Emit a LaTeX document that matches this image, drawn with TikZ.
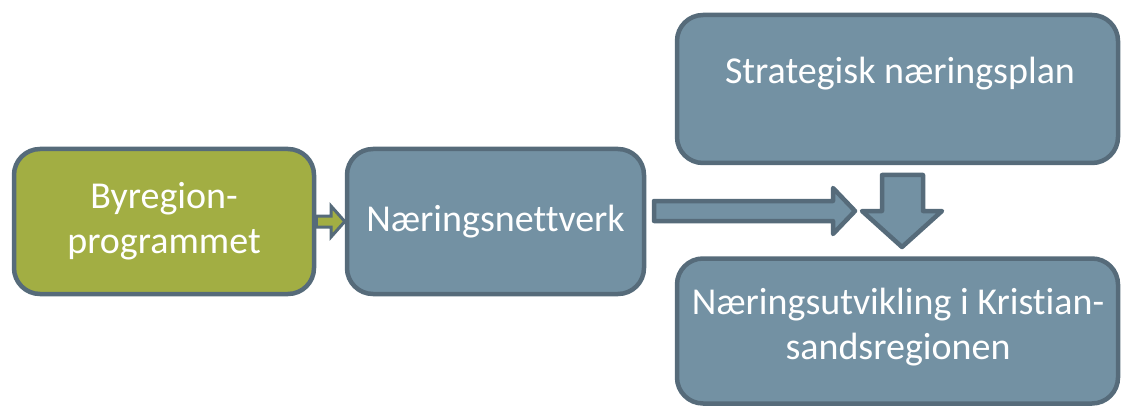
\documentclass[tikz,border=0pt]{standalone}
\usepackage{fontspec}
\setmainfont[Ligatures=NoCommon]{Carlito}
\definecolor{boxblue}{HTML}{7391A3}
\definecolor{boxedge}{HTML}{566B7A}
\definecolor{boxgreen}{HTML}{A2AE43}
\begin{document}
\begin{tikzpicture}[x=1pt,y=-1pt,
  blk/.style={draw=boxedge,line width=4.5pt,rounded corners=26pt,fill=boxblue,text=white,
    font=\fontsize{38}{45}\selectfont,align=center,inner sep=0pt},
  lbl/.style={text=white,font=\fontsize{38}{45}\selectfont,align=center,inner sep=0pt},
  arr/.style={draw=boxedge,line width=4.5pt,line join=round,fill=boxblue}]
\useasboundingbox (0,0) rectangle (1123,406);
\node[blk,fill=boxgreen,minimum width=300pt,minimum height=145pt] (b1) at (164,221.5) {Byregion-\\programmet};
\node[blk,minimum width=297pt,minimum height=145pt] (b2) at (495.5,221.5) {Næringsnettverk};
\node[blk,minimum width=441pt,minimum height=148pt] (b3) at (897.5,89) {};
\node[lbl] (t3) at (900,74) {Strategisk næringsplan};
\node[blk,minimum width=441pt,minimum height=145pt] (b4) at (897.5,331) {};
\node[lbl] (t4) at (898,327) {Næringsutvikling i Kristian-\\sandsregionen};
% small arrow b1 -> b2
\draw[draw=boxedge,line width=3pt,line join=miter,fill=boxgreen]
  (b1.east |- 0,216) -- (331,216) -- (331,206) -- (b2.west |- 0,221.5) -- (331,237) -- (331,227) -- (b1.east |- 0,227) -- cycle;
% long arrow
\draw[arr] (654,201) -- (833,201) -- (833,188) -- (855,211) -- (833,234) -- (833,221) -- (654,221) -- cycle;
% down arrow
\draw[arr] (882,175) -- (923,175) -- (923,211) -- (942,211) -- (902,247) -- (862,211) -- (882,211) -- cycle;
\end{tikzpicture}
\end{document}
